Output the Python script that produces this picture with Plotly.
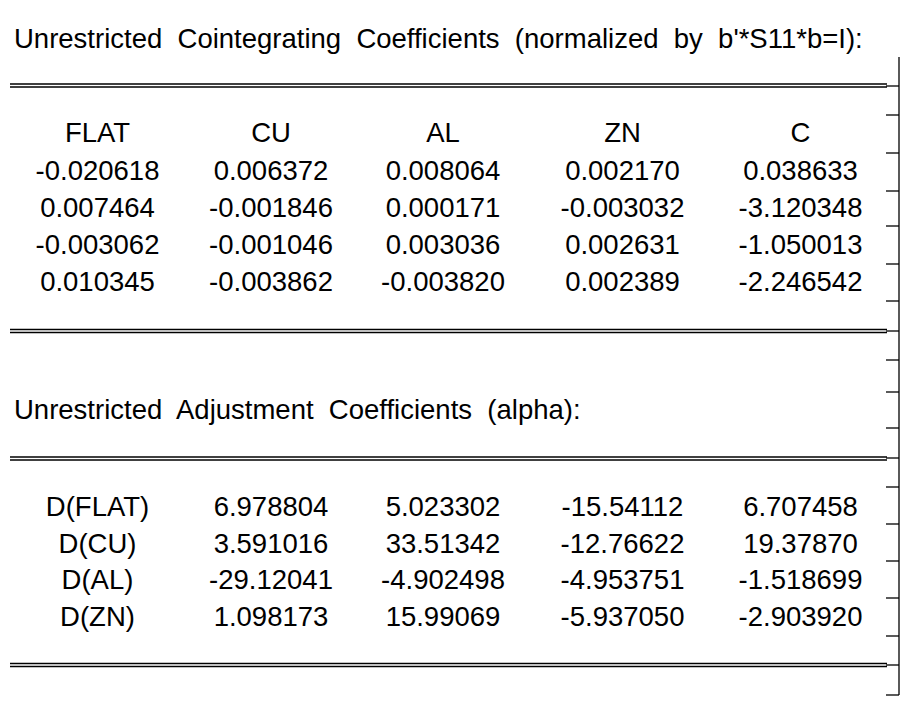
import plotly.graph_objects as go

# ---- data ----
title1 = "Unrestricted  Cointegrating  Coefficients  (normalized  by  b'*S11*b=I):"
title2 = "Unrestricted  Adjustment  Coefficients  (alpha):"

coint_headers = ["FLAT", "CU", "AL", "ZN", "C"]
coint_rows = [
    ["-0.020618", "0.006372", "0.008064", "0.002170", "0.038633"],
    ["0.007464", "-0.001846", "0.000171", "-0.003032", "-3.120348"],
    ["-0.003062", "-0.001046", "0.003036", "0.002631", "-1.050013"],
    ["0.010345", "-0.003862", "-0.003820", "0.002389", "-2.246542"],
]

adj_labels = ["D(FLAT)", "D(CU)", "D(AL)", "D(ZN)"]
adj_rows = [
    ["6.978804", "5.023302", "-15.54112", "6.707458"],
    ["3.591016", "33.51342", "-12.76622", "19.37870"],
    ["-29.12041", "-4.902498", "-4.953751", "-1.518699"],
    ["1.098173", "15.99069", "-5.937050", "-2.903920"],
]

# ---- layout geometry (page-pixel coordinates; body has an 8px margin) ----
W, H = 914, 716
OFF = 8
FONT = dict(family="Liberation Sans, Arial, sans-serif", size=27.5, color="black")
col_x = [97.5, 271, 443, 622.5, 800.5]
t1_rows_y = [135, 173, 210, 247, 284]
t2_rows_y = [509, 546, 582, 619]

fig = go.Figure()

def add_cells(xs, ys, texts):
    fig.add_trace(go.Scatter(x=xs, y=ys, text=texts, mode="text",
                             textposition="middle center", textfont=FONT,
                             hoverinfo="skip", showlegend=False))

# table 1
xs, ys, ts = [], [], []
for j, h in enumerate(coint_headers):
    xs.append(col_x[j]); ys.append(t1_rows_y[0]); ts.append(h)
for i, row in enumerate(coint_rows):
    for j, v in enumerate(row):
        xs.append(col_x[j]); ys.append(t1_rows_y[i + 1]); ts.append(v)
add_cells(xs, ys, ts)

# table 2
xs, ys, ts = [], [], []
for i, lab in enumerate(adj_labels):
    xs.append(col_x[0]); ys.append(t2_rows_y[i]); ts.append(lab)
    for j, v in enumerate(adj_rows[i]):
        xs.append(col_x[j + 1]); ys.append(t2_rows_y[i]); ts.append(v)
add_cells(xs, ys, ts)

def nb(s):
    return s.replace("  ", "\u00a0 ")

fig.add_annotation(x=12, y=38, text=nb(title1), showarrow=False,
                   xanchor="left", yanchor="middle", font=FONT)
fig.add_annotation(x=12, y=409, text=nb(title2), showarrow=False,
                   xanchor="left", yanchor="middle", font=FONT)

# double rules
for y0 in [84, 329.5, 457, 663.5]:
    for dy in (0, 3):
        fig.add_shape(type="line", x0=10, x1=887, y0=y0 + dy, y1=y0 + dy,
                      line=dict(color="black", width=1.3))

# right border with ticks
fig.add_shape(type="line", x0=899, x1=899, y0=57, y1=695,
              line=dict(color="black", width=1.3))
ticks_y = [86, 115, 153, 191, 226, 264, 301, 331, 360, 392, 428, 458,
           487, 524, 561, 598, 636, 665, 695]
for ty in ticks_y:
    fig.add_shape(type="line", x0=886, x1=899, y0=ty, y1=ty,
                  line=dict(color="black", width=1.3))

fig.update_layout(
    width=W - 2 * OFF, height=H - 2 * OFF, margin=dict(l=0, r=0, t=0, b=0),
    paper_bgcolor="white", plot_bgcolor="white",
    xaxis=dict(range=[OFF, W - OFF], visible=False, fixedrange=True),
    yaxis=dict(range=[H - OFF, OFF], visible=False, fixedrange=True),
)

fig.write_html("out.html")
